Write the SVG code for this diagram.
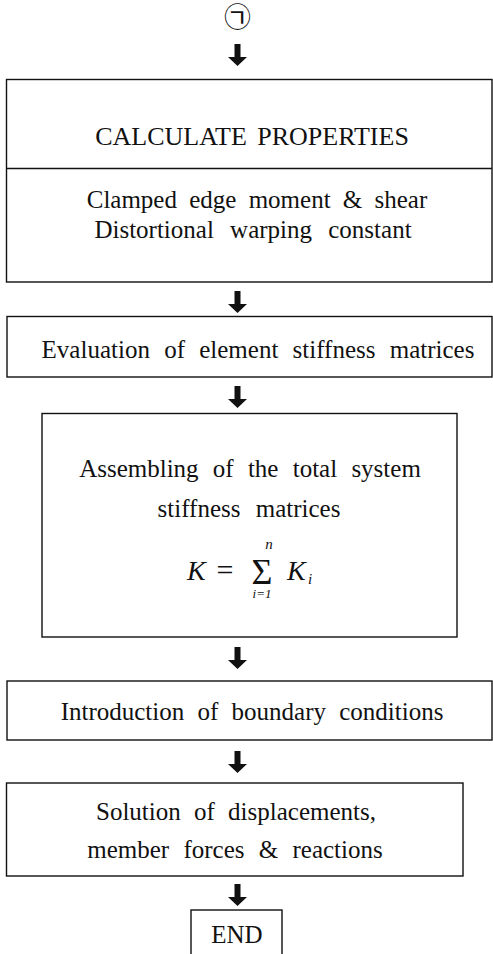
<svg xmlns="http://www.w3.org/2000/svg" xmlns:xlink="http://www.w3.org/1999/xlink" width="493" height="954" viewBox="0 0 493 954">
<style>
.box{fill:#fff;stroke:#111;stroke-width:1.4}
.t{font-size:25px;fill:#111;text-anchor:middle}
.m{fill:#111;font-style:italic}
.arr{fill:#111}
</style>
<defs>
<path id="ah" d="M-3,0 H3 V13 H9.5 L0,22 L-9.5,13 H-3 Z"/>
</defs>
<rect width="493" height="954" fill="#fff"/>
<g id="start">
<text x="237.5" y="27" font-family="Noto Sans CJK KR, Noto Sans CJK SC, sans-serif" font-size="27" fill="#111" text-anchor="middle">㉠</text>
</g>
<g id="connectors" class="arr">
<use xlink:href="#ah" x="237.5" y="44"/>
<use xlink:href="#ah" x="237.5" y="291"/>
<use xlink:href="#ah" x="237.5" y="386"/>
<use xlink:href="#ah" x="237.5" y="647"/>
<use xlink:href="#ah" x="237.5" y="751"/>
<use xlink:href="#ah" x="237.5" y="884"/>
</g>
<g font-family="Liberation Serif, DejaVu Serif, serif">
<g id="calc">
<rect class="box" x="6.5" y="79.5" width="485.5" height="202.5"/>
<line x1="6.5" y1="168.5" x2="492" y2="168.5" stroke="#111" stroke-width="1.4"/>
<text class="t" x="252" y="145" style="font-size:26px" word-spacing="4">CALCULATE PROPERTIES</text>
<text class="t" x="257" y="208" word-spacing="6">Clamped edge moment &amp; shear</text>
<text class="t" x="253" y="238" word-spacing="10">Distortional warping constant</text>
</g>
<g id="evaluation">
<rect class="box" x="7" y="316.5" width="485" height="60.5"/>
<text class="t" x="258" y="358" word-spacing="8">Evaluation of element stiffness matrices</text>
</g>
<g id="assembling">
<rect class="box" x="42" y="413.5" width="415" height="223.5"/>
<text class="t" x="250" y="477" word-spacing="8">Assembling of the total system</text>
<text class="t" x="249" y="517" word-spacing="9">stiffness matrices</text>
<text class="m" x="187" y="580" font-size="28">K</text>
<text x="225" y="580" font-size="30" fill="#111" text-anchor="middle">=</text>
<text x="262" y="584" font-size="36" fill="#111" text-anchor="middle">Σ</text>
<text class="m" x="269" y="549" font-size="15" text-anchor="middle">n</text>
<text class="m" x="262" y="598" font-size="13" text-anchor="middle">i=1</text>
<text class="m" x="287" y="580" font-size="28">K</text>
<text class="m" x="308" y="584" font-size="15">i</text>
</g>
<g id="boundary">
<rect class="box" x="7" y="681" width="485" height="59"/>
<text class="t" x="252" y="720" word-spacing="7">Introduction of boundary conditions</text>
</g>
<g id="solution">
<rect class="box" x="6.5" y="783" width="456.5" height="93"/>
<text class="t" x="236" y="820" word-spacing="7">Solution of displacements,</text>
<text class="t" x="235" y="858" word-spacing="8">member forces &amp; reactions</text>
</g>
<g id="end">
<rect class="box" x="191" y="910" width="91" height="60"/>
<text class="t" x="237" y="943">END</text>
</g>
</g>
</svg>
